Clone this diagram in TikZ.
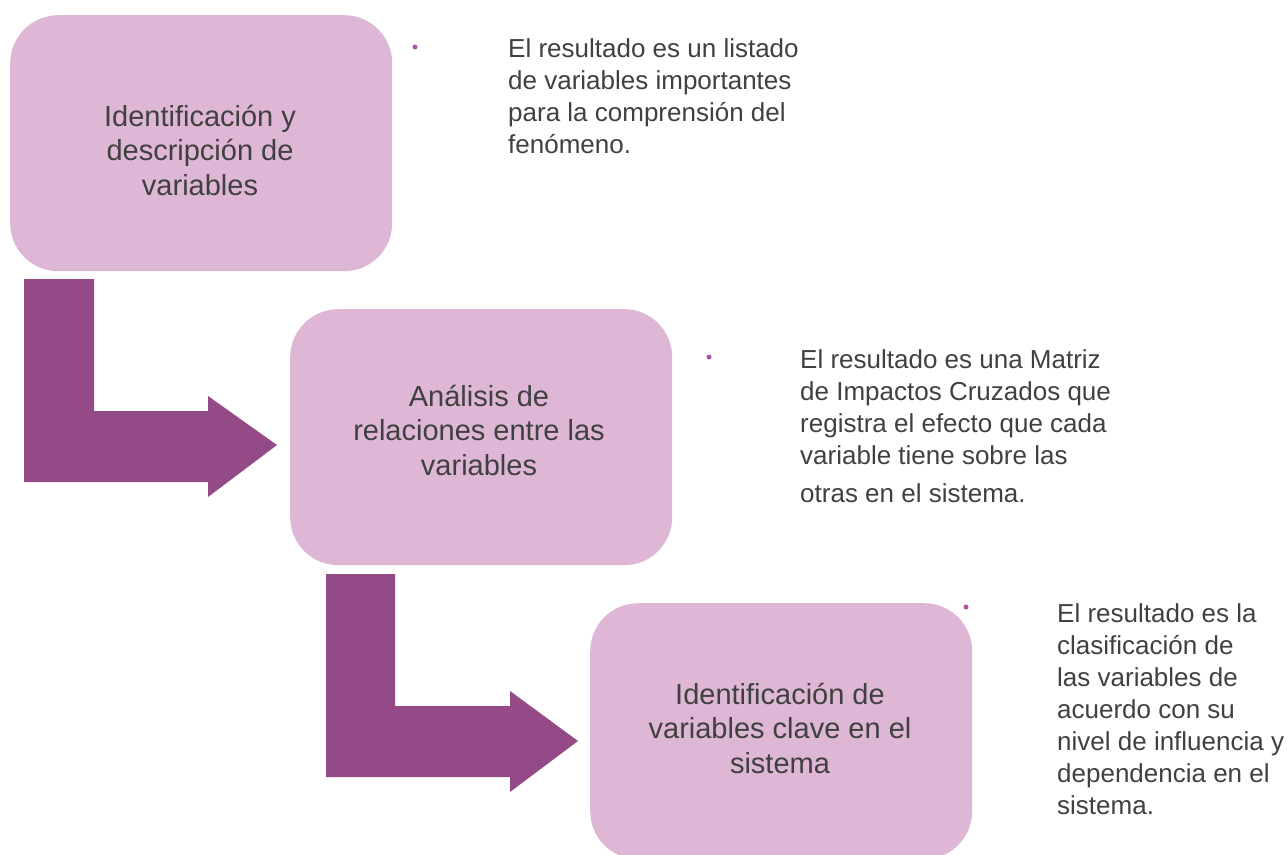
\documentclass[tikz,border=0pt]{standalone}
\usepackage{fontspec}
\setmainfont{Liberation Sans}
\definecolor{boxfill}{HTML}{DDB7D5}
\definecolor{arrowfill}{HTML}{944A87}
\definecolor{bulletc}{HTML}{B154A3}
\definecolor{txt}{HTML}{404040}
\tikzset{
  stepbox/.style={rectangle, rounded corners=48pt, fill=boxfill, draw=none,
    minimum width=382pt, minimum height=256pt, inner sep=0pt, anchor=north west},
  boxtext/.style={align=center, text=txt, inner sep=0pt, anchor=base,
    font=\fontsize{29}{34.5}\selectfont},
  paratext/.style={align=left, text=txt, inner sep=0pt, anchor=base west,
    font=\fontsize{26}{32}\selectfont},
  bendarrow/.style={fill=arrowfill, draw=none},
  bulletdot/.style={circle, fill=bulletc, inner sep=0pt, minimum size=5pt}
}
\begin{document}
\begin{tikzpicture}[x=1pt,y=-1pt]
\useasboundingbox (0,0) rectangle (1287,854);
\clip (0,0) rectangle (1287,854);
% boxes
\node[stepbox] (b1) at (10,15) {};
\node[stepbox] (b2) at (290,309) {};
\node[stepbox] (b3) at (590,603) {};
% box texts (anchored at the baseline of the last line)
\node[boxtext] (t1) at (200,195) {Identificación y\\descripción de\\variables};
\node[boxtext] (t2) at (479,475) {Análisis de\\relaciones entre las\\variables};
\node[boxtext] (t3) at (780,773) {Identificación de\\variables clave en el\\sistema};
% bent arrows
\path[bendarrow] (24,279) -- (94,279) -- (94,411) -- (208,411) -- (208,396)
  -- (277,445) -- (208,497) -- (208,482) -- (24,482) -- cycle;
\path[bendarrow] (326,574) -- (395,574) -- (395,706) -- (510,706) -- (510,691)
  -- (578,741) -- (510,792) -- (510,777) -- (326,777) -- cycle;
% bullets
\node[bulletdot] (d1) at (415,47) {};
\node[bulletdot] (d2) at (709,357) {};
\node[bulletdot] (d3) at (966,607) {};
% paragraphs (anchored at the baseline of the last line)
\node[paratext] (p1) at (508,153) {El resultado es un listado\\de variables importantes\\para la comprensión del\\fenómeno.};
\node[paratext] (p2) at (800,502) {El resultado es una Matriz\\de Impactos Cruzados que\\registra el efecto que cada\\variable tiene sobre las\\[6pt]otras en el sistema.};
\node[paratext] (p3) at (1057,814) {El resultado es la\\clasificación de\\las variables de\\acuerdo con su\\nivel de influencia y\\dependencia en el\\sistema.};
\end{tikzpicture}
\end{document}
